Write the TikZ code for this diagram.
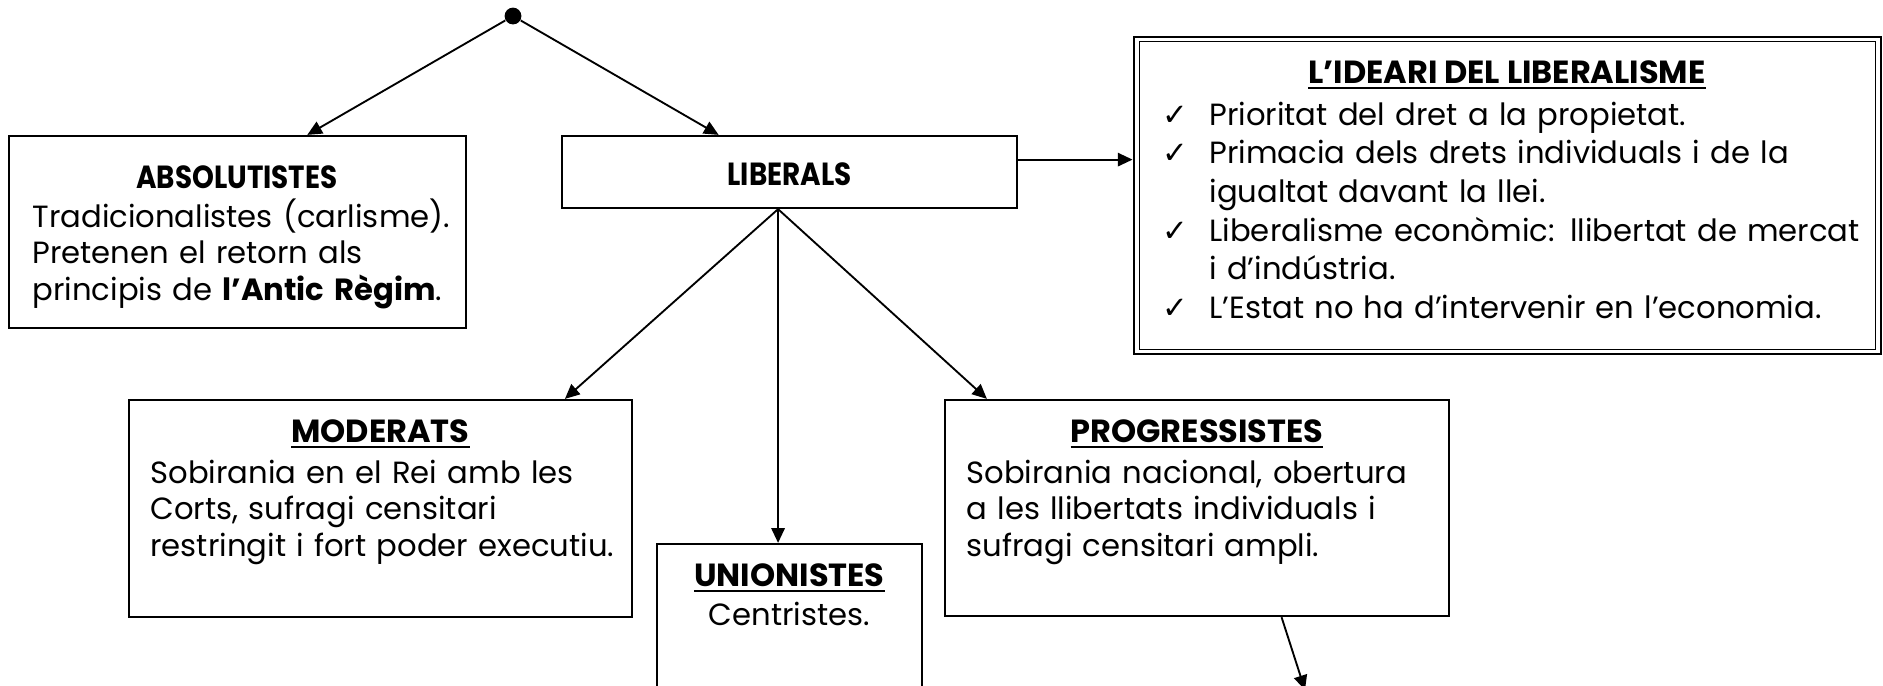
\documentclass[tikz,border=0pt]{standalone}
\usepackage{fontspec}
\setmainfont{Poppins}
\newfontfamily\symfont{DejaVu Sans}
\usetikzlibrary{arrows.meta,calc,fit}
\tikzset{box/.style={draw, line width=0.85pt, inner sep=0pt}}
\tikzset{arc/.style={-{Triangle[length=5.5pt,width=5pt]}, line width=0.7pt}}
\tikzset{title/.style={anchor=base, inner sep=0pt, font=\fontsize{12}{14}\selectfont\bfseries}}
\tikzset{body/.style={anchor=base west, inner sep=0pt, text width=280pt, align=left, font=\fontsize{11.5}{13.8}\selectfont}}
\newcommand{\tick}{\makebox[17.6pt][l]{\symfont ✓}}
\newcommand{\narrow}[1]{\scalebox{0.87}[1]{#1}}
\newcommand{\titleline}[1]{\setbox0\hbox{#1}\rlap{\rule[-2.3pt]{\wd0}{0.85pt}}\box0}

\begin{document}
\begin{tikzpicture}[x=0.375pt, y=-0.375pt]
\clip (0,0) rectangle (1883,685);
\node (root) at (513,16)[circle, fill=black, inner sep=0pt, minimum size=6.3pt]{};

\node (abs) [box, fit={(9,136) (466,328)}]{};
\node (lib) [box, fit={(562,136) (1017,208)}]{};
\node (idea) [box, line width=1.1pt, fit={(1134,37) (1881,354)}]{};
\draw[line width=0.5pt] ([shift={(7,6)}]idea.north west) rectangle ([shift={(-7,-6)}]idea.south east);
\node (mod) [box, fit={(129,400) (632,617)}]{};
\node (uni) [box, fit={(657,544) (922,720)}]{};
\node (pro) [box, fit={(945,400) (1449,616)}]{};

% titles
\node (absT) at (237,188)[title]{\narrow{ABSOLUTISTES}};
\node (libT) at (789.5,185)[title]{\narrow{LIBERALS}};
\node (ideaT) at (1507,83)[title]{\titleline{L’IDEARI DEL LIBERALISME}};
\node (modT) at (380.5,442)[title]{\titleline{MODERATS}};
\node (uniT) at (789.5,586)[title]{\titleline{UNIONISTES}};
\node (proT) at (1197,442)[title]{\titleline{PROGRESSISTES}};

% texts
\node (absB) at (32,227)[body]{Tradicionalistes (carlisme).\\
Pretenen el retorn als\\
principis de \textbf{l’Antic Règim}.};
\node (modB) at (150,483)[body]{Sobirania en el Rei amb les\\
Corts, sufragi censitari\\
restringit i fort poder executiu.};
\node (uniB) at (789.5,625)[title, font=\fontsize{11.5}{14}\selectfont]{Centristes.};
\node (proB) at (966,483)[body]{Sobirania nacional, obertura\\
a les llibertats individuals i\\
sufragi censitari ampli.};
\node (ideaB) at (1162,125)[body, text width=300pt, font=\fontsize{11.5}{14.5}\selectfont]{\tick Prioritat del dret a la propietat.\\
\tick Primacia dels drets individuals i de la\\
\hspace*{17.6pt}igualtat davant la llei.\\
\tick Liberalisme econòmic: llibertat de mercat\\
\hspace*{17.6pt}i d’indústria.\\
\tick L’Estat no ha d’intervenir en l’economia.};

\draw[arc] (root) -- ($(abs.north west)!0.652!(abs.north east)$);
\draw[arc] (root) -- ($(lib.north west)!0.345!(lib.north east)$);
\coordinate (libout) at ($(lib.north east)!0.333!(lib.south east)$);
\draw[arc] (libout) -- (libout -| idea.west);
\coordinate (fan) at ($(lib.south west)!0.475!(lib.south east)$);
\draw[arc] (fan) -- ($(mod.north west)!0.865!(mod.north east)$);
\draw[arc] (fan) -- (fan |- uni.north);
\draw[arc] (fan) -- ($(pro.north west)!0.085!(pro.north east)$);
\coordinate (down) at (1305,690);
\draw[arc] ($(pro.south west)!0.667!(pro.south east)$) -- (down);
\end{tikzpicture}
\end{document}
